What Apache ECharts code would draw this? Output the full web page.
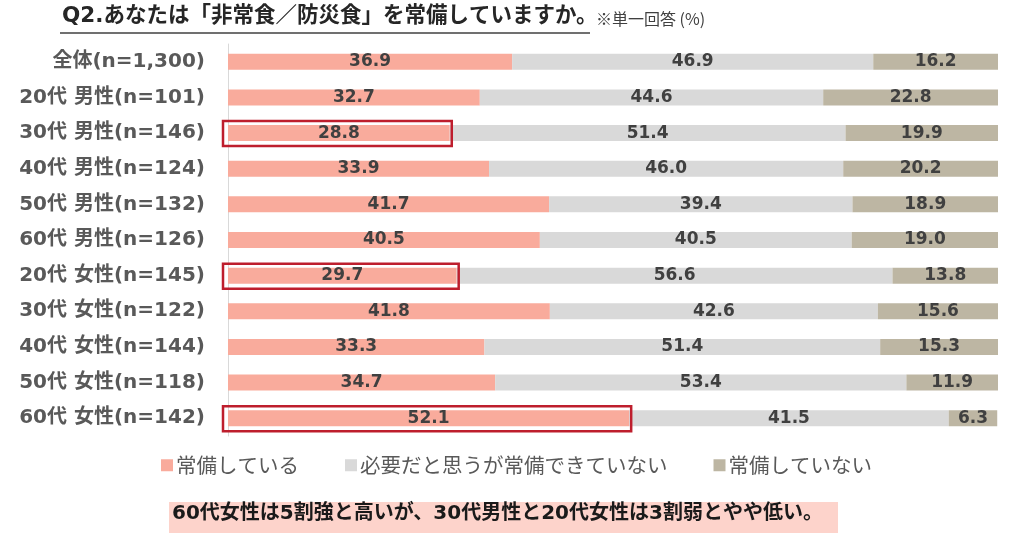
<!DOCTYPE html>
<html>
<head>
<meta charset="utf-8">
<script src="https://cdn.jsdelivr.net/npm/echarts@6/dist/echarts.min.js"></script>
<style>
  html, body { margin: 0; padding: 0; background: #fff; }
  #chart { width: 1024px; height: 552px; }
</style>
</head>
<body>
<div id="chart"></div>
<script>
  let categories = [
    "全体(n=1,300)",
    "20代 男性(n=101)",
    "30代 男性(n=146)",
    "40代 男性(n=124)",
    "50代 男性(n=132)",
    "60代 男性(n=126)",
    "20代 女性(n=145)",
    "30代 女性(n=122)",
    "40代 女性(n=144)",
    "50代 女性(n=118)",
    "60代 女性(n=142)"
  ];
  let seriesNames = ["常備している", "必要だと思うが常備できていない", "常備していない"];
  let haveStock = [36.9, 32.7, 28.8, 33.9, 41.7, 40.5, 29.7, 41.8, 33.3, 34.7, 52.1];
  let wantButNot = [46.9, 44.6, 51.4, 46.0, 39.4, 40.5, 56.6, 42.6, 51.4, 53.4, 41.5];
  let noStock = [16.2, 22.8, 19.9, 20.2, 18.9, 19.0, 13.8, 15.6, 15.3, 11.9, 6.3];
  let highlighted = ["30代 男性(n=146)", "20代 女性(n=145)", "60代 女性(n=142)"];
  let colors = ["#f9ab9c", "#d9d9d9", "#bdb6a3"];

  // latin glyphs from DejaVu (wide, like the original), kana/kanji from Noto
  let font = "'DejaVu Sans', 'Noto Sans CJK JP', sans-serif";
  let jpFont = "'Noto Sans CJK JP', sans-serif";
  let chart = echarts.init(document.getElementById("chart"));

  // boxes round the highlighted rows' first segment
  let boxData = highlighted.map(function(name) {
    let i = categories.indexOf(name);
    return [haveStock[i], i];
  });

  function segment(name, values, color) {
    return {
      name: name,
      type: "bar",
      stack: "total",
      barWidth: 16,
      data: values,
      itemStyle: { color: color },
      label: {
        show: true,
        position: "inside",
        color: "#404040",
        fontFamily: font,
        fontWeight: "bold",
        fontSize: 17,
        formatter: function(p) { return p.value.toFixed(1); }
      },
      emphasis: { disabled: true },
      z: 2
    };
  }

  let option = {
    animation: false,
    textStyle: { fontFamily: font },
    grid: { left: 228, right: 26, top: 44, bottom: 116 },
    xAxis: {
      type: "value",
      min: 0,
      max: 100,
      show: false
    },
    yAxis: {
      type: "category",
      data: categories,
      inverse: true,
      axisTick: { show: false },
      axisLine: { show: true, lineStyle: { color: "#d9d9d9", width: 1 } },
      axisLabel: {
        margin: 23,
        color: "#595959",
        fontFamily: font,
        fontWeight: "bold",
        fontSize: 20
      }
    },
    legend: {
      left: 156,
      top: 450,
      itemGap: 46,
      itemWidth: 12,
      itemHeight: 12,
      icon: "rect",
      selectedMode: false,
      data: seriesNames,
      textStyle: { color: "#595959", fontSize: 20.5, fontFamily: jpFont, padding: [0, 0, 0, -2] }
    },
    series: [
      segment(seriesNames[0], haveStock, colors[0]),
      segment(seriesNames[1], wantButNot, colors[1]),
      segment(seriesNames[2], noStock, colors[2]),
      {
        type: "custom",
        data: boxData,
        z: 5,
        silent: true,
        renderItem: function(params, api) {
          let start = api.coord([0, api.value(1)]);
          let end = api.coord([api.value(0), api.value(1)]);
          return {
            type: "rect",
            shape: {
              x: start[0] - 5,
              y: start[1] - 12,
              width: end[0] - start[0] + 7,
              height: 25
            },
            style: { fill: "none", stroke: "#be1e2d", lineWidth: 2.5 }
          };
        }
      }
    ],
    graphic: [
      {
        type: "text",
        left: 62,
        top: 6,
        style: {
          text: "Q2.あなたは「非常食／防災食」を常備していますか。",
          fill: "#262626",
          font: "bold 21.5px " + font
        }
      },
      {
        type: "line",
        shape: { x1: 60, y1: 33, x2: 590, y2: 33 },
        style: { stroke: "#404040", lineWidth: 1.5 }
      },
      {
        type: "text",
        left: 596,
        top: 11,
        style: {
          text: "※単一回答 (%)",
          fill: "#404040",
          font: "16px " + jpFont
        }
      },
      {
        type: "rect",
        shape: { x: 169, y: 502, width: 669, height: 31 },
        style: { fill: "#fdd3cb" }
      },
      {
        type: "text",
        left: 172,
        top: 504,
        style: {
          text: "60代女性は5割強と高いが、30代男性と20代女性は3割弱とやや低い。",
          fill: "#1a1a1a",
          font: "bold 20px " + font
        }
      }
    ]
  };
  chart.setOption(option);
</script>
</body>
</html>
